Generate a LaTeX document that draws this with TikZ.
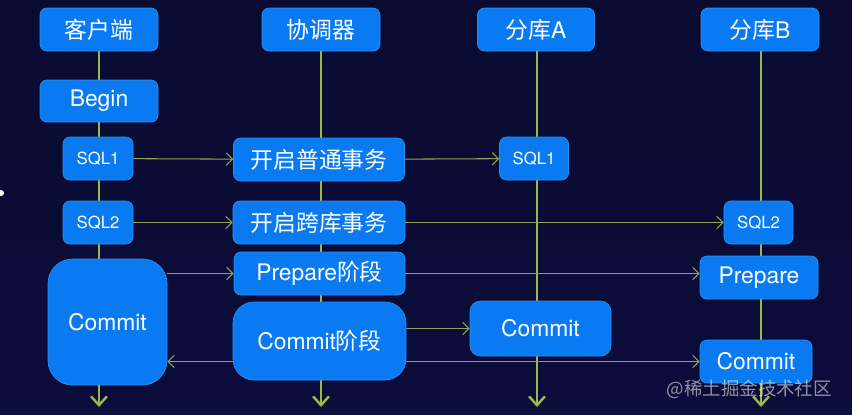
\documentclass[tikz,border=0pt]{standalone}
\usepackage{fontspec}
\setmainfont{TeX Gyre Heros}
\newfontfamily\cjk{Noto Sans CJK SC}
\usepackage{tikz}
\usetikzlibrary{arrows.meta}
\usetikzlibrary{positioning}

\definecolor{boxblue}{HTML}{0A7AF2}
\definecolor{boxedge}{HTML}{2E8EF0}
\definecolor{lifegreen}{HTML}{9CB947}
\definecolor{msggreen}{HTML}{8FA457}
\definecolor{bgtop}{HTML}{09091F}
\definecolor{bgmid}{HTML}{0B0D3E}
\definecolor{bglow}{HTML}{0E1C78}
\definecolor{bgbot}{HTML}{1C55C4}

\pgfdeclareverticalshading{bgshade}{17.04cm}{color(0cm)=(bgbot); color(0.8cm)=(bglow);
  color(2.6cm)=(bgmid); color(8.28cm)=(bgtop)}

\pgfdeclarelayer{bg}
\pgfdeclarelayer{back}
\pgfsetlayers{bg,back,main}

\begin{document}
\begin{tikzpicture}[
  x=0.02cm, y=-0.02cm,
  box/.style 2 args={rectangle,rounded corners=4pt,fill=boxblue,draw=boxedge,
    text=white,inner sep=0pt,minimum width=#1*0.02cm,minimum height=#2*0.02cm,
    font=\fontsize{13}{15}\selectfont},
  small/.style={font=\fontsize{9.5}{12}\selectfont},
  life/.style={lifegreen,line width=1.2pt,-{Straight Barb[length=5pt,width=9pt,line width=1.4pt]}},
  msg/.style={msggreen,line width=0.6pt,-{Straight Barb[length=3.5pt,width=7pt]}}
]
  \useasboundingbox (0,0) rectangle (852,414);
  \begin{pgfonlayer}{bg}
    \shade[shading=bgshade] (0,0) rectangle (852,414);
    \fill[white] (1,193) circle (3);
  \end{pgfonlayer}

  % heads
  \node[box={118}{43}] (client) at (99,29.5)  {\cjk 客户端};
  \node[box={118}{43}] (coord)  at (321,29.5) {\cjk 协调器};
  \node[box={117}{43}] (dbA)    at (536,29.5) {{\cjk 分库}A};
  \node[box={118}{43}] (dbB)    at (760,29.5) {{\cjk 分库}B};

  % client side
  \node[box={118}{42}]         (begin)   at (99,101)    {Begin};
  \node[box={70}{43},small]    (sqlA)    at (98,158.5)  {SQL1};
  \node[box={70}{43},small]    (sqlB)    at (98,222.5)  {SQL2};
  \node[box={119}{126},rounded corners=14pt] (commitC) at (107.5,322) {Commit};

  % coordinator
  \node[box={171}{43}] (plain)   at (319,159.5) {\cjk 开启普通事务};
  \node[box={172}{43}] (cross)   at (319,222.5) {\cjk 开启跨库事务};
  \node[box={171}{43}] (prep)    at (319.5,273.5) {Prepare{\cjk 阶段}};
  \node[box={173}{78},rounded corners=12pt] (commitP) at (319.5,341) {Commit{\cjk 阶段}};

  % shards
  \node[box={69}{43},small]  (sqlAA)   at (534,158.5) {SQL1};
  \node[box={141}{55},rounded corners=6pt] (commitA) at (540.5,328.5) {Commit};
  \node[box={69}{43},small]  (sqlBB)   at (758.5,222.5) {SQL2};
  \node[box={118}{43}]       (prepB)   at (759,277.5) {Prepare};
  \node[box={112}{43}]       (commitB) at (756,361.5) {Commit};

  \coordinate (endC) at (99,407);
  \coordinate (endP) at (321,407);
  \coordinate (endA) at (537,407);
  \coordinate (endB) at (761,407);

  \begin{pgfonlayer}{back}
    \draw[life] (client.south) -- (endC);
    \draw[life] (coord.south)  -- (endP);
    \draw[life] (dbA.south -| endA) -- (endA);
    \draw[life] (dbB.south -| endB) -- (endB);

    \draw[msg] (sqlA) -- (plain);
    \draw[msg] (plain) -- (sqlAA);
    \draw[msg] (sqlB) -- (cross);
    \draw[msg] (cross) -- (sqlBB);
    \draw[msg] (commitC.east |- prep.west) -- (prep.west);
    \draw[msg] (prep.east) -- (prep.east -| prepB.west);
    \draw[msg] (commitP.east |- commitA.west) -- (commitA.west);
    \draw[msg] (commitP.east |- commitB.west) -- (commitB.west);
    \draw[msg] (commitP.west |- commitB.west) -- (commitC.east |- commitB.west);
  \end{pgfonlayer}

  \node[text=white,opacity=0.55,font=\cjk\fontsize{10.5}{12}\selectfont,anchor=east]
    (mark) at (838,389) {@稀土掘金技术社区};
\end{tikzpicture}
\end{document}
